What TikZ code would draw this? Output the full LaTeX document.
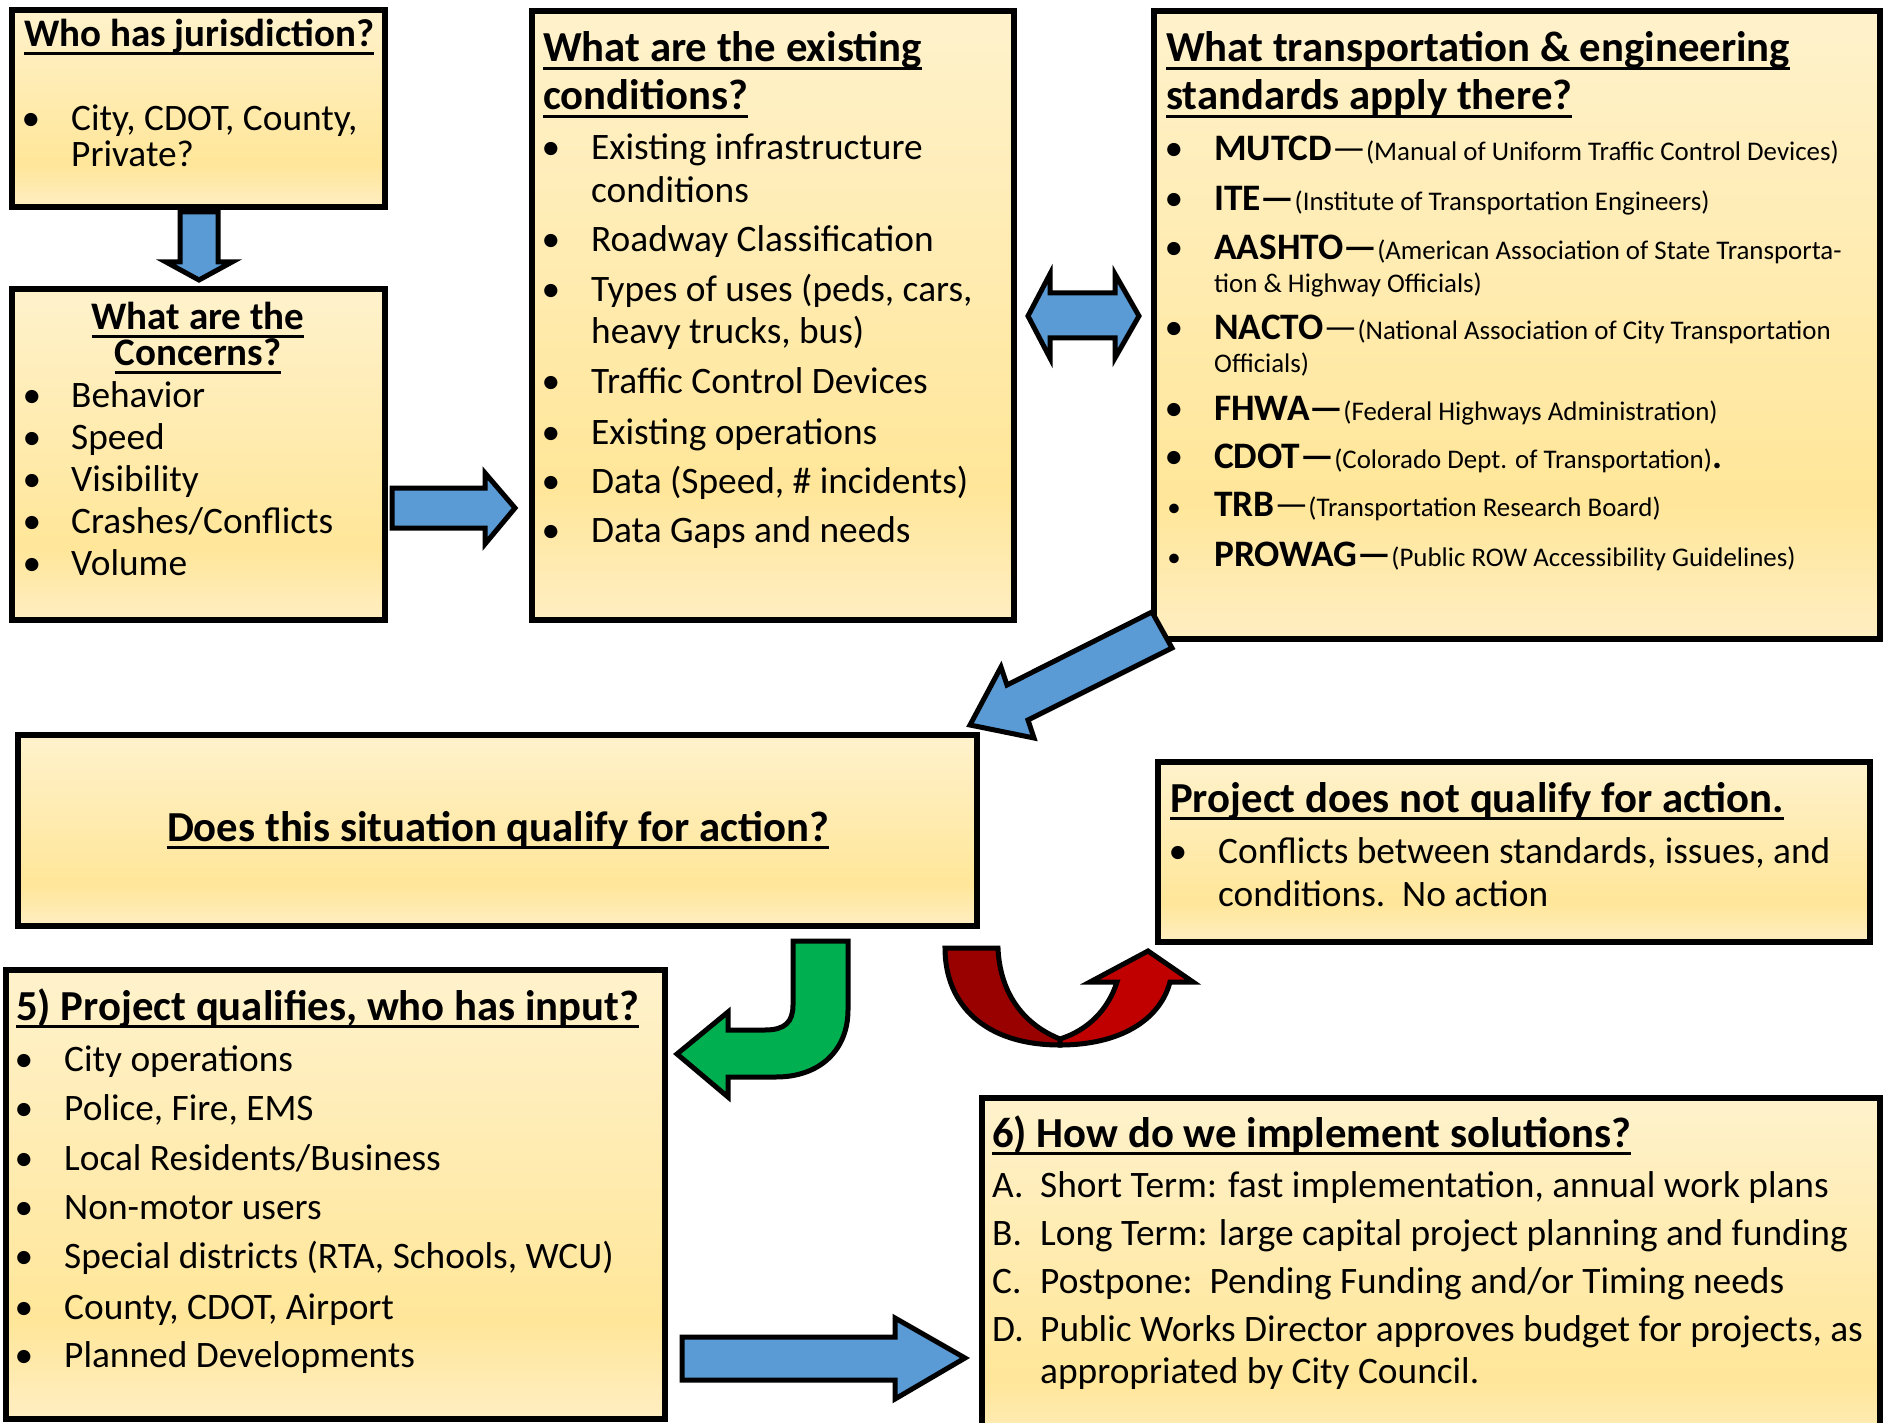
\documentclass[tikz,border=0pt]{standalone}
\usepackage{fontspec}
\setmainfont{Carlito}
\usetikzlibrary{calc}

\definecolor{boxtop}{HTML}{FFF2CC}
\definecolor{boxmid}{HTML}{FFE699}
\definecolor{boxbot}{HTML}{FFEEC2}
\definecolor{flowblue}{HTML}{5B9BD5}
\definecolor{flowgreen}{HTML}{00B050}
\definecolor{flowred}{HTML}{C00000}
\definecolor{flowdark}{HTML}{990000}

\pgfdeclareverticalshading{boxshade}{100bp}{color(0bp)=(boxbot); color(25bp)=(boxbot); color(36bp)=(boxmid); color(75bp)=(boxtop); color(100bp)=(boxtop)}

\newsavebox\ulbox
\newcommand\uln[1]{\sbox\ulbox{#1}\rlap{\rule[-8pt]{\wd\ulbox}{3pt}}\usebox\ulbox}
\newcommand\pn[1]{{\fontsize{26.9}{30}\selectfont #1}}
\newcommand\acr[1]{\textbf{#1}}

\begin{document}
\begin{tikzpicture}[x=1pt, y=-1pt,
	box/.style={draw, line width=5.5pt, shading=boxshade, anchor=north west, inner sep=0pt, outer sep=0pt},
	bodytxt/.style={anchor=base west, inner sep=0pt, font=\fontsize{37.35}{44}\selectfont},
	ttl/.style={anchor=base west, inner sep=0pt, font=\fontsize{42.75}{50}\selectfont\bfseries},
	ttlsm/.style={ttl, font=\fontsize{39}{46}\selectfont\bfseries},
	bul/.style={anchor=base, inner sep=0pt, font=\fontsize{37.35}{44}\selectfont},
	bulsm/.style={bul, font=\fontsize{27}{32}\selectfont},
	flowarrow/.style={draw=black, line width=5pt, line join=miter, fill=flowblue},
]

	% ---- page

	\useasboundingbox (0,0) rectangle (1883,1423);
	\fill[white] (0,0) rectangle (1883,1423);
	\clip (0,0) rectangle (1883,1423);

	% ---- boxes

	\node[box, minimum width=373pt, minimum height=197pt] (juris) at (12,10) {};
	\node[box, minimum width=373pt, minimum height=331pt] (concern) at (12,289) {};
	\node[box, minimum width=482pt, minimum height=609pt] (exist) at (532,11) {};
	\node[box, minimum width=726pt, minimum height=628pt] (stand) at (1154,11) {};
	\node[box, minimum width=959pt, minimum height=191pt] (qualify) at (18,735) {};
	\node[box, minimum width=712pt, minimum height=180pt] (noqual) at (1158,762) {};
	\node[box, minimum width=659pt, minimum height=449pt] (input) at (6,970) {};
	\node[box, minimum width=898pt, minimum height=360pt] (implement) at (982,1098) {};

	% ---- who has jurisdiction

	\node[ttlsm] (juris-t) at (24,47) {\uln{Who has jurisdiction?}};
	\node[bul] (juris-b1) at (31,131) {•};
	\node[bodytxt] (juris-l1) at (71,131) {City, CDOT, County,};
	\node[bodytxt] (juris-l2) at (71,167) {Private?};

	% ---- concerns

	\node[ttlsm, anchor=base] (concern-t1) at (198,330) {\uln{What are the}};
	\node[ttlsm, anchor=base] (concern-t2) at (198,366) {\uln{Concerns?}};
	\foreach \y/\t [count=\i] in {407/Behavior, 449/Speed, 491/Visibility, 533/{Crashes/Conflicts}, 575/Volume} {
		\node[bul] (concern-b\i) at (32,\y) {•};
		\node[bodytxt] (concern-l\i) at (71,\y) {\t};
	}

	% ---- existing conditions

	\node[ttl] (exist-t1) at (543,62) {\uln{What are the existing}};
	\node[ttl] (exist-t2) at (543,110) {\uln{conditions?}};
	\foreach \y [count=\i] in {160,252,302,394,444,493,542} {
		\node[bul] (exist-b\i) at (551,\y) {•};
	}
	\foreach \y/\t [count=\i] in {160/Existing infrastructure, 203/conditions, 252/Roadway Classification,
		302/{Types of uses (peds, cars,}, 344/{heavy trucks, bus)}, 394/Traffic Control Devices,
		444/Existing operations, 493/{Data (Speed, \# incidents)}, 542/Data Gaps and needs} {
		\node[bodytxt] (exist-l\i) at (591,\y) {\t};
	}

	% ---- standards

	\node[ttl] (stand-t1) at (1166,62) {\uln{What transportation \& engineering}};
	\node[ttl] (stand-t2) at (1166,110) {\uln{standards apply there?}};
	\foreach \y [count=\i] in {161,211,260,340,420,468} {
		\node[bul] (stand-b\i) at (1174,\y) {•};
	}
	\node[bulsm] (stand-b7) at (1174,516) {•};
	\node[bulsm] (stand-b8) at (1174,566) {•};
	\foreach \y/\t [count=\i] in {
		161/{\acr{MUTCD}—\pn{(Manual of Uniform Traffic Control Devices)}},
		211/{\acr{ITE—}\pn{(Institute of Transportation Engineers)}},
		260/{\acr{AASHTO—}\pn{(American Association of State Transporta-}},
		293/{\pn{tion \& Highway Officials)}},
		340/{\acr{NACTO}—\pn{(National Association of City Transportation}},
		373/{\pn{Officials)}},
		420/{\acr{FHWA—}\pn{(Federal Highways Administration)}},
		468/{\acr{CDOT—}\pn{(Colorado Dept. of Transportation)}\acr{.}},
		516/{\acr{TRB}—\pn{(Transportation Research Board)}},
		566/{\acr{PROWAG—}\pn{(Public ROW Accessibility Guidelines)}}} {
		\node[bodytxt] (stand-l\i) at (1214,\y) {\t};
	}

	% ---- does it qualify

	\node[ttl, anchor=base] (qualify-t) at (498,841) {\uln{Does this situation qualify for action?}};

	% ---- does not qualify

	\node[ttl] (noqual-t) at (1170,812) {\uln{Project does not qualify for action.}};
	\node[bul] (noqual-b1) at (1178,863) {•};
	\node[bodytxt] (noqual-l1) at (1218,863) {Conflicts between standards, issues, and};
	\node[bodytxt] (noqual-l2) at (1218,906) {conditions.\ \ No action};

	% ---- who has input

	\node[ttl] (input-t) at (16,1020) {\uln{5) Project qualifies, who has input?}};
	\foreach \y/\t [count=\i] in {1071/City operations, 1120/{Police, Fire, EMS},
		1170/{Local Residents/Business}, 1219/Non-motor users,
		1268/{Special districts (RTA, Schools, WCU)}, 1319/{County, CDOT, Airport},
		1367/Planned Developments} {
		\node[bul] (input-b\i) at (24,\y) {•};
		\node[bodytxt] (input-l\i) at (64,\y) {\t};
	}

	% ---- implement

	\node[ttl] (implement-t) at (992,1147) {\uln{6) How do we implement solutions?}};
	\foreach \y/\t [count=\i] in {1197/A., 1245/B., 1293/C., 1341/D.} {
		\node[bodytxt] (implement-k\i) at (992,\y) {\t};
	}
	\foreach \y/\t [count=\i] in {1197/{Short Term: fast implementation, annual work plans},
		1245/{Long Term: large capital project planning and funding},
		1293/{Postpone:\ \ Pending Funding and/or Timing needs},
		1341/{Public Works Director approves budget for projects, as},
		1383/{appropriated by City Council.}} {
		\node[bodytxt] (implement-l\i) at (1040,\y) {\t};
	}

	% ---- block arrows

	\draw[flowarrow] (180,212) -- (218,212) -- (218,262) -- (232,262) -- (199,280)
		-- (166,262) -- (180,262) -- cycle;
	\draw[flowarrow] (392,488) -- (485,488) -- (485,473) -- (515,508) -- (485,544)
		-- (485,528) -- (392,528) -- cycle;
	\draw[flowarrow] (1028,316) -- (1050,274) -- (1050,293) -- (1115,293) -- (1115,274)
		-- (1139,316) -- (1115,358) -- (1115,338) -- (1050,338) -- (1050,358) -- cycle;
	\draw[flowarrow] (1152,612) -- (1007,685) -- (1001,667) -- (970,725) -- (1034,738)
		-- (1028,720) -- (1172,648) -- cycle;
	\draw[flowarrow] (682,1337) -- (895,1337) -- (895,1318) -- (965,1358) -- (895,1399)
		-- (895,1380) -- (682,1380) -- cycle;

	% ---- turn arrows

	\draw[flowarrow, fill=flowgreen] (793,941) -- (793,1005) .. controls (793,1022) and (785,1030) .. (765,1030)
		-- (728,1030) -- (728,1012) -- (677,1054) -- (728,1097) -- (728,1077) -- (776,1077)
		.. controls (820,1077) and (848,1050) .. (848,1010) -- (848,941) -- cycle;
	\draw[flowarrow, fill=flowdark] (945,948) -- (998,948) .. controls (1000,995) and (1025,1025) .. (1060,1039)
		-- (1060,1045) .. controls (985,1045) and (945,1005) .. (945,948) -- cycle;
	\draw[flowarrow, fill=flowred] (1060,1045) .. controls (1120,1045) and (1160,1020) .. (1170,982)
		-- (1193,982) -- (1148,951) -- (1090,982) -- (1117,982)
		.. controls (1108,1010) and (1088,1030) .. (1060,1039) -- cycle;

\end{tikzpicture}
\end{document}
